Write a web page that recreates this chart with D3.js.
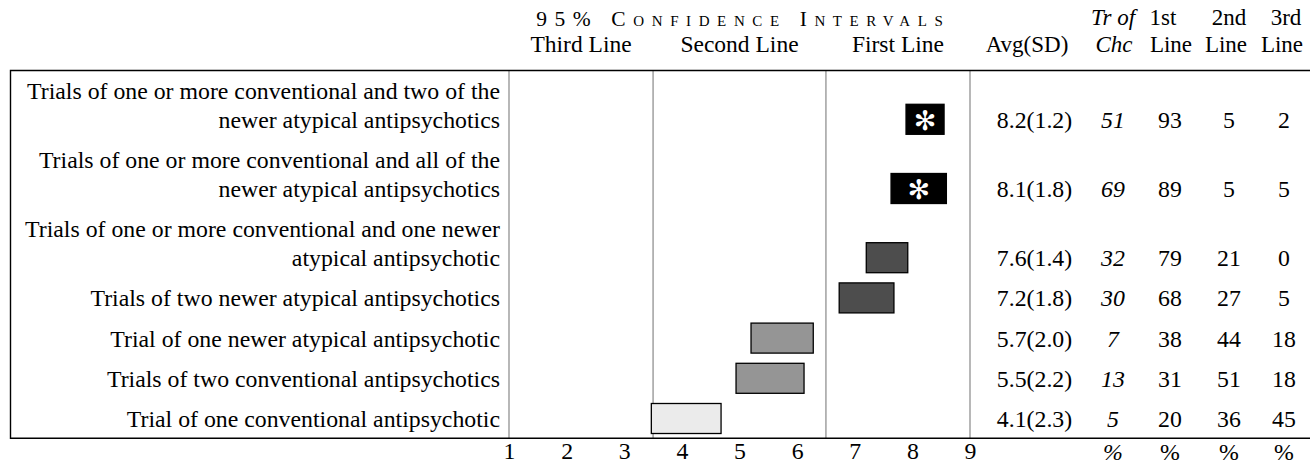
<!DOCTYPE html>
<html><head><meta charset="utf-8">
<script src="https://cdn.jsdelivr.net/npm/d3@7"></script>
<style>
body{margin:0;background:#fff}
svg{display:block}
text{font-family:"Liberation Serif","Times New Roman",serif;fill:#000}
</style>
</head><body>
<svg id="c" width="1310" height="462"></svg>
<script>
// ---- data ----
const labels = [
  ["Trials of one or more conventional and two of the", "newer atypical antipsychotics"],
  ["Trials of one or more conventional and all of the", "newer atypical antipsychotics"],
  ["Trials of one or more conventional and one newer", "atypical antipsychotic"],
  ["Trials of two newer atypical antipsychotics"],
  ["Trial of one newer atypical antipsychotic"],
  ["Trials of two conventional antipsychotics"],
  ["Trial of one conventional antipsychotic"]
];
const ciLow  = [7.89, 7.63, 7.20, 6.73, 5.20, 4.94, 3.47];
const ciHigh = [8.55, 8.59, 7.92, 7.68, 6.28, 6.12, 4.68];
const tier   = ["first", "first", "first", "first", "second", "second", "third"];
const starred = [true, true, false, false, false, false, false];
const avg    = [8.2, 8.1, 7.6, 7.2, 5.7, 5.5, 4.1];
const sd     = [1.2, 1.8, 1.4, 1.8, 2.0, 2.2, 2.3];
const trChc  = [51, 69, 32, 30, 7, 13, 5];
const pct1st = [93, 89, 79, 68, 38, 31, 20];
const pct2nd = [5, 5, 21, 27, 44, 51, 36];
const pct3rd = [2, 5, 0, 5, 18, 18, 45];
const ticks  = [1, 2, 3, 4, 5, 6, 7, 8, 9];
const bands  = [[1, 3.5, "Third Line"], [3.5, 6.5, "Second Line"], [6.5, 9, "First Line"]];
const title  = "95% Confidence Intervals";

// ---- layout ----
const svg = d3.select("#c");
const x = d3.scaleLinear().domain([1, 9]).range([509, 970]);
const boxTop = 70.5, boxBottom = 438.3, boxLeft = 10.5, W = 1310;
const lineH = 29, rowGap = 40.2;
const yc = [];
let cur = boxTop + 19.8 - rowGap;
labels.forEach((l, i) => { cur += rowGap + lineH * (l.length - 1); yc.push(cur); });
const fill = d => d.star ? "#000" : ({first: "#4d4d4d", second: "#959595", third: "#ebebeb"})[d.tier];
const rows = labels.map((l, i) => ({lines: l, lo: ciLow[i], hi: ciHigh[i], tier: tier[i], star: starred[i],
  avg: avg[i], sd: sd[i], tr: trChc[i], p1: pct1st[i], p2: pct2nd[i], p3: pct3rd[i], y: yc[i]}));

const FS = 23.8;

// gridlines
svg.append("g").selectAll("line").data([1, 3.5, 6.5, 9]).join("line")
  .attr("x1", d => x(d)).attr("x2", d => x(d))
  .attr("y1", boxTop).attr("y2", boxBottom)
  .attr("stroke", "#888").attr("stroke-width", 1.2);

// box
svg.append("path")
  .attr("d", `M${W},${boxTop}H${boxLeft}V${boxBottom}H${W}`)
  .attr("fill", "none").attr("stroke", "#000").attr("stroke-width", 1.4);

// title
svg.append("text").attr("x", x(5)).attr("y", 25.5)
  .attr("text-anchor", "middle")
  .style("font-variant", "small-caps").style("letter-spacing", "7.6px")
  .attr("font-size", 21.5).attr("dx", 3.8)
  .text(title);

// band headers
svg.append("g").selectAll("text").data(bands).join("text")
  .attr("x", d => x((d[0] + d[1]) / 2)).attr("y", 52)
  .attr("text-anchor", "middle").attr("font-size", 23.5)
  .text(d => d[2]);

// right headers
const hdr1 = [["Tr of", 1113, true], ["1st", 1163, false], ["2nd", 1229, false], ["3rd", 1286, false]];
const hdr2 = [["Avg(SD)", 1027, false], ["Chc", 1114, true], ["Line", 1171, false], ["Line", 1226, false], ["Line", 1282, false]];
svg.append("g").selectAll("text").data(hdr1).join("text")
  .attr("x", d => d[1]).attr("y", 25).attr("text-anchor", "middle").attr("font-size", 23)
  .style("font-style", d => d[2] ? "italic" : "normal").text(d => d[0]);
svg.append("g").selectAll("text").data(hdr2).join("text")
  .attr("x", d => d[1]).attr("y", 51.5).attr("text-anchor", "middle").attr("font-size", 23)
  .style("font-style", d => d[2] ? "italic" : "normal").text(d => d[0]);

// row labels
const lg = svg.append("g");
rows.forEach(r => {
  r.lines.forEach((t, j) => {
    lg.append("text").attr("x", 500)
      .attr("y", r.y + 8.5 - lineH * (r.lines.length - 1 - j))
      .attr("text-anchor", "end").attr("font-size", FS).text(t);
  });
});

// bars
const bh = 30;
svg.append("g").selectAll("rect").data(rows).join("rect")
  .attr("x", d => x(d.lo)).attr("width", d => x(d.hi) - x(d.lo))
  .attr("y", d => d.y - bh / 2).attr("height", bh)
  .attr("fill", fill).attr("stroke", "#000").attr("stroke-width", 1.3);

svg.append("g").selectAll("text").data(rows.filter(d => d.star)).join("text")
  .attr("x", d => x((d.lo + d.hi) / 2)).attr("y", d => d.y + 1)
  .attr("text-anchor", "middle").attr("dominant-baseline", "central")
  .style("font-family", "'DejaVu Sans'").style("fill", "#fff").attr("font-size", 27)
  .text("\u273B");

// value columns
const cols = [
  [d => `${d.avg.toFixed(1)}(${d.sd.toFixed(1)})`, 1034.5, false],
  [d => d.tr, 1113, true],
  [d => d.p1, 1170, false],
  [d => d.p2, 1229, false],
  [d => d.p3, 1284, false]
];
cols.forEach(([f, cx, it]) => {
  svg.append("g").selectAll("text").data(rows).join("text")
    .attr("x", cx).attr("y", d => d.y + 8.5)
    .attr("text-anchor", "middle").attr("font-size", FS)
    .style("font-style", it ? "italic" : "normal")
    .text(f);
});

// axis
const ax = svg.append("g").attr("transform", `translate(0,${boxBottom})`)
  .call(d3.axisBottom(x).tickValues(ticks).tickSize(0).tickPadding(4).tickFormat(d3.format("d")));
ax.select(".domain").remove();
ax.selectAll("text").attr("font-size", FS).style("font-family", "'Liberation Serif','Times New Roman',serif").attr("fill", "#000");

// percent units row
svg.append("g").selectAll("text").data(cols.slice(1)).join("text")
  .attr("x", d => d[1]).attr("y", 459.5).attr("text-anchor", "middle").attr("font-size", FS)
  .style("font-style", d => d[2] ? "italic" : "normal").text("%");
</script>
</body></html>
